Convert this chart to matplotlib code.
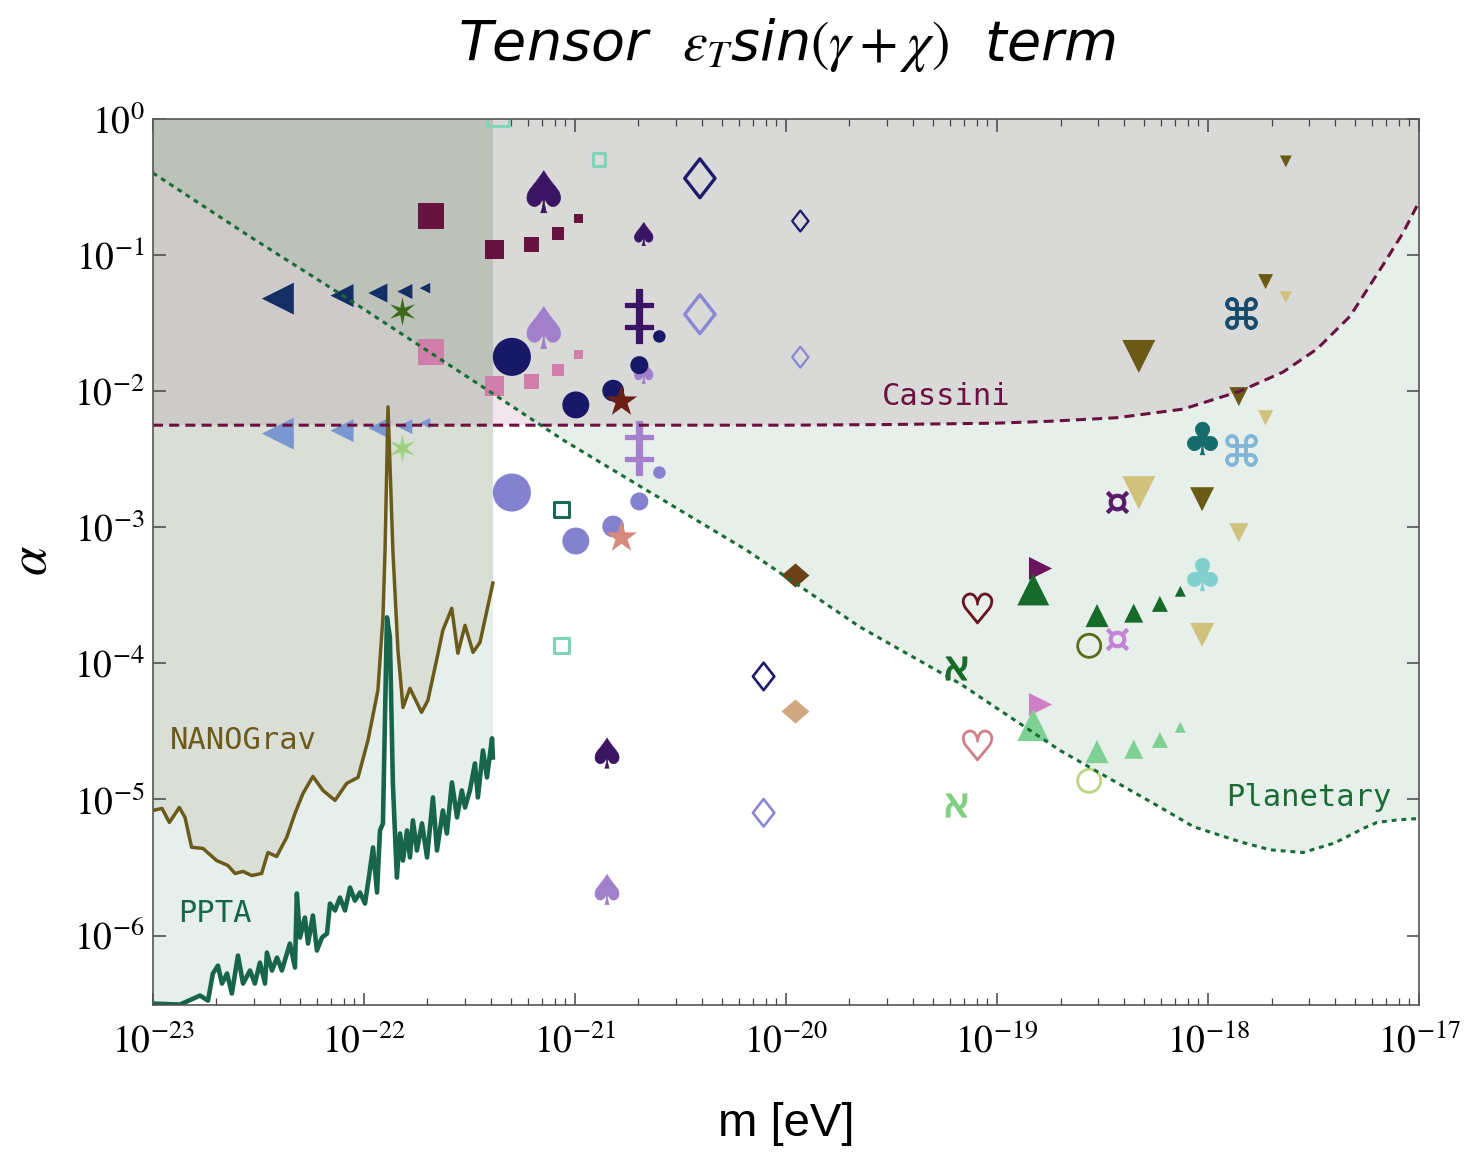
#script to redraw the tensor term exclusion plot
import numpy as np
import matplotlib.pyplot as plt
import matplotlib as mpl
from matplotlib.patches import Polygon
from matplotlib.path import Path
from matplotlib.textpath import TextPath
from matplotlib.font_manager import FontProperties
from matplotlib.ticker import FuncFormatter, NullFormatter

mpl.rcParams['mathtext.fontset'] = 'stix'

# ---------------- bounds (log10 m [eV], log10 alpha) ----------------
planet_logm = [-23.0, -22.54, -22.066, -21.436, -21.055, -20.66, -20.186, -19.649, -19.175,
               -18.701, -18.227, -18.069, -17.85, -17.706, -17.55, -17.40, -17.26, -17.199,
               -17.10, -17.0]
planet_loga = [-0.397, -0.865, -1.331, -1.97, -2.36, -2.728, -3.169, -3.733, -4.149,
               -4.64, -5.057, -5.2, -5.31, -5.37, -5.39, -5.32, -5.21, -5.169,
               -5.15, -5.14]

cassini_logm = [-23.0, -20.0, -19.5, -19.0, -18.749, -18.431, -18.118, -17.848, -17.645,
                -17.483, -17.327, -17.171, -17.076, -17.0]
cassini_loga = [-2.25, -2.25, -2.245, -2.235, -2.221, -2.195, -2.132, -2.0, -1.86,
                -1.69, -1.45, -1.074, -0.838, -0.61]

nano_logm = [-23.0, -22.957, -22.922, -22.875, -22.848, -22.817, -22.763, -22.698, -22.645,
             -22.611, -22.573, -22.532, -22.485, -22.455, -22.414, -22.366, -22.327, -22.289,
             -22.242, -22.194, -22.137, -22.082, -22.028, -21.981, -21.934, -21.91, -21.9,
             -21.886, -21.863, -21.839, -21.815, -21.782, -21.727, -21.697, -21.656, -21.626,
             -21.584, -21.555, -21.521, -21.483, -21.45, -21.389]
nano_loga = [-5.081, -5.066, -5.169, -5.059, -5.132, -5.351, -5.36, -5.449, -5.485,
             -5.544, -5.529, -5.559, -5.544, -5.39, -5.419, -5.279, -5.103, -4.956,
             -4.831, -4.934, -5.007, -4.882, -4.838, -4.566, -4.199, -3.662, -3.169,
             -2.115, -3.169, -3.904, -4.324, -4.184, -4.36, -4.272, -3.978, -3.757,
             -3.596, -3.926, -3.721, -3.919, -3.846, -3.41]

ppta_logm = [-23.0, -22.872, -22.777, -22.739, -22.716, -22.692, -22.673, -22.649, -22.626,
             -22.597, -22.573, -22.54, -22.517, -22.493, -22.469, -22.46, -22.436, -22.412,
             -22.389, -22.351, -22.327, -22.318, -22.303, -22.28, -22.265, -22.242, -22.223,
             -22.199, -22.175, -22.161, -22.137, -22.114, -22.09, -22.066, -22.043, -22.019,
             -21.995, -21.972, -21.957, -21.938, -21.924, -21.91, -21.891, -21.877, -21.863,
             -21.844, -21.829, -21.815, -21.796, -21.782, -21.768, -21.749, -21.725, -21.701,
             -21.673, -21.654, -21.626, -21.607, -21.583, -21.559, -21.536, -21.521, -21.498,
             -21.474, -21.46, -21.436, -21.417, -21.393, -21.389]
ppta_loga = [-6.5, -6.507, -6.441, -6.478, -6.279, -6.221, -6.353, -6.279, -6.426,
             -6.147, -6.353, -6.257, -6.353, -6.199, -6.353, -6.125, -6.257, -6.162,
             -6.257, -6.059, -6.235, -5.691, -6.015, -5.868, -6.059, -5.853, -6.11,
             -6.015, -5.985, -5.765, -5.816, -5.721, -5.816, -5.647, -5.743, -5.684,
             -5.765, -5.522, -5.353, -5.684, -5.228, -5.176, -3.662, -3.809, -4.882,
             -5.574, -5.25, -5.449, -5.228, -5.426, -5.154, -5.375, -5.176, -5.426,
             -4.985, -5.375, -5.081, -5.25, -4.875, -5.132, -4.934, -5.059, -4.934,
             -4.735, -4.985, -4.64, -4.838, -4.551, -4.691]

# ---------------- signal points: log10 m, log10 alpha (dark / light coupling) ----------------
ltri_logm = [-22.408, -22.104, -21.934, -21.806, -21.711]
ltri_dark = [-1.320, -1.298, -1.279, -1.268, -1.243]
ltri_light = [-2.312, -2.290, -2.272, -2.261, -2.235]

sq_logm = [-21.682, -21.382, -21.206, -21.081, -20.982]
sq_dark = [-0.713, -0.956, -0.926, -0.842, -0.734]
sq_light = [-1.712, -1.962, -1.926, -1.844, -1.732]

circ_logm = [-21.299, -20.996, -20.819, -20.695, -20.600]
circ_dark = [-1.748, -2.101, -1.996, -1.809, -1.598]
circ_light = [-2.745, -3.101, -2.994, -2.810, -2.598]

spade_logm = [-21.148, -20.848, -20.674]
spade_dark = [-0.535, -4.660, -0.846]
spade_light = [-1.533, -5.662, -1.858]

odia_logm = [-20.408, -20.106, -19.932]
odia_dark = [-0.436, -4.096, -0.750]
odia_light = [-1.435, -5.098, -1.750]

osq_logm = [-21.364, -21.063, -20.885]
osq_dark = [1.03, -2.868, 0.702]
osq_light = [0.03, -3.868, -0.298]

ddag_logm = [-20.698]
ddag_dark = [-1.447]
ddag_light = [-2.421]

star_logm = [-20.782]
star_dark = [-2.074]
star_light = [-3.072]

ast_logm = [-21.819]
ast_dark = [-1.414]
ast_light = [-2.414]

fdia_logm = [-19.957]
fdia_dark = [-3.349]
fdia_light = [-4.349]

dtri_logm = [-18.328, -18.028, -17.854, -17.727, -17.631]
dtri_dark = [-1.745, -2.794, -2.040, -1.195, -0.312]
dtri_light = [-2.746, -3.791, -3.040, -2.195, -1.310]

cmd_logm = [-17.843]
cmd_dark = [-1.429]
cmd_light = [-2.430]

club_logm = [-18.027]
club_dark = [-2.343]
club_light = [-3.346]

rtri_logm = [-18.796]
rtri_dark = [-3.299]
rtri_light = [-4.299]

utri_logm = [-18.828, -18.526, -18.352, -18.228, -18.131]
utri_dark = [-3.457, -3.649, -3.631, -3.563, -3.470]
utri_light = [-4.454, -4.649, -4.631, -4.563, -4.470]

heart_logm = [-19.096]
heart_dark = [-3.593]
heart_light = [-4.597]

aleph_logm = [-19.193]
aleph_dark = [-4.037]
aleph_light = [-5.038]

ocirc_logm = [-18.563]
ocirc_dark = [-3.871]
ocirc_light = [-4.863]

curr_logm = [-18.431]
curr_dark = [-2.818]
curr_light = [-3.818]

x_decades = list(range(-23, -16))
y_decades = list(range(-6, 1))


def glyph(ch):
    # glyph outline flattened to polygons and centred on its box,
    # so the marker size equals its largest dimension
    tp = TextPath((0, 0), ch, size=50, prop=FontProperties(family='DejaVu Sans'))
    polys = tp.to_polygons(closed_only=True)
    allv = np.vstack(polys)
    cx = (allv[:, 0].min() + allv[:, 0].max()) / 2
    cy = (allv[:, 1].min() + allv[:, 1].max()) / 2
    return Path.make_compound_path(*[Path(p - [cx, cy], closed=True) for p in polys])


def region(logm, loga):
    xs = list(10 ** np.array(logm)) + [10 ** logm[-1], 10 ** logm[0]]
    ys = list(10 ** np.array(loga)) + [1.0, 1.0]
    return np.column_stack([xs, ys])


fig = plt.figure(figsize=(14.65, 11.55), dpi=100)
ax = fig.add_axes([0.1044, 0.1299, 0.8642, 0.7671])
ax.set_xscale('log')
ax.set_yscale('log')

# shaded regions
def add_region(logm, loga, color, z, clip=None):
    p = Polygon(region(logm, loga), closed=True, facecolor=color, lw=0, zorder=z)
    ax.add_patch(p)
    if clip is not None:
        p.set_clip_path(clip)
    return p

P_clip = Polygon(region(planet_logm, planet_loga), closed=True, transform=ax.transData)
N_clip = Polygon(region(nano_logm, nano_loga), closed=True, transform=ax.transData)

add_region(planet_logm, planet_loga, '#e6efe9', 1.0)
add_region(cassini_logm, cassini_loga, '#f2e6ec', 1.1)
add_region(cassini_logm, cassini_loga, '#d9d9d8', 1.2, clip=P_clip)
add_region(ppta_logm, ppta_loga, '#e6efec', 1.3)
add_region(nano_logm, nano_loga, '#d9ded7', 1.4)
add_region(cassini_logm, cassini_loga, '#cdcbc7', 1.5, clip=N_clip)
add_region(planet_logm, planet_loga, '#bcc1b9', 1.6, clip=N_clip)


def pair(logm, dark, light, sizes, marker, c_dark, c_light, hollow=False, lw=0.0):
    m = 10 ** np.asarray(logm)
    s = np.asarray(sizes, dtype=float) ** 2
    for vals, c in ((light, c_light), (dark, c_dark)):
        a = 10 ** np.asarray(vals)
        if hollow:
            ax.scatter(m, a, s=s, marker=marker, facecolors='none', edgecolors=c,
                       linewidths=lw, zorder=3)
        else:
            ax.scatter(m, a, s=s, marker=marker, facecolors=c, edgecolors=c,
                       linewidths=lw, zorder=3)


diamond_open = Path([(0, 1), (0.78, 0), (0, -1), (-0.78, 0), (0, 1)], closed=True)
diamond_flat = Path([(1, 0), (0, 0.86), (-1, 0), (0, -0.86), (1, 0)], closed=True)
asterisk = Path.unit_regular_star(6, 0.3)

pair(sq_logm, sq_dark, sq_light, [18.7, 13.7, 10.8, 9.0, 6.5], 's', '#661340', '#d07faa')
pair(ltri_logm, ltri_dark, ltri_light, [23, 16.6, 13.7, 10.8, 7.6], '<', '#142f66', '#7b97d0')
pair(ast_logm, ast_dark, ast_light, [20.9], asterisk, '#3d6b1a', '#9fd27f')
pair(spade_logm, spade_dark, spade_light, [30.2, 21.6, 16.6], glyph('\u2660'), '#3b1463', '#a17fcb',
     lw=0.5)
pair(circ_logm, circ_dark, circ_light, [27.4, 19.4, 15.6, 13.0, 9.0], 'o', '#181868', '#8482cf')
pair(ddag_logm, ddag_dark, ddag_light, [38.5], glyph('\u2021'), '#3b1463', '#a580cc', lw=0.9)
pair(star_logm, star_dark, star_light, [23.8], '*', '#6b2015', '#d68a7a')
pair(osq_logm, osq_dark, osq_light, [16.2, 11.2, 9.0], 's', '#1a6b55', '#80d5b8', hollow=True, lw=2.2)
pair(odia_logm, odia_dark, odia_light, [28, 19.8, 15.1], diamond_open, '#1f1a6b', '#8b86d6',
     hollow=True, lw=[2.4, 1.9, 1.6])
pair(fdia_logm, fdia_dark, fdia_light, [20.2], diamond_flat, '#6b4016', '#d0a880')
pair(dtri_logm, dtri_dark, dtri_light, [23.8, 17.3, 13.7, 10.8, 8.6], 'v', '#6b5a16', '#d1c17c')
pair(cmd_logm, cmd_dark, cmd_light, [23], glyph('\u2318'), '#154a6b', '#80b5d6', lw=0.6)
pair(club_logm, club_dark, club_light, [23.5], glyph('\u2663'), '#166b6b', '#80d0d0', lw=0.5)
pair(rtri_logm, rtri_dark, rtri_light, [16.6], '>', '#6b1460', '#d07fc7')
pair(utri_logm, utri_dark, utri_light, [23, 16.6, 13.7, 11.5, 7.9], '^', '#166b2b', '#7fd095')
pair(heart_logm, heart_dark, heart_light, [21.6], glyph('\u2661'), '#6b1420', '#d0808a', lw=1.3)
pair(aleph_logm, aleph_dark, aleph_light, [16.6], glyph('\u05d0'), '#166b25', '#80d080', lw=0.8)
pair(ocirc_logm, ocirc_dark, ocirc_light, [16.6], 'o', '#5a6b1a', '#bcd580', hollow=True, lw=2.0)
pair(curr_logm, curr_dark, curr_light, [15.8], glyph('\u00a4'), '#5a1a6b', '#c383d6', lw=0.8)

# bound curves
ax.plot(10 ** np.array(nano_logm), 10 ** np.array(nano_loga), color='#6b5a1a', lw=2.5,
        solid_joinstyle='round', zorder=4)
ax.plot(10 ** np.array(ppta_logm), 10 ** np.array(ppta_loga), color='#17654b', lw=3.3,
        solid_joinstyle='round', zorder=4)
ax.plot(10 ** np.array(cassini_logm), 10 ** np.array(cassini_loga), color='#6b1142', lw=2.2,
        dashes=(3.3, 2.0), zorder=4)
ax.plot(10 ** np.array(planet_logm), 10 ** np.array(planet_loga), color='#1a6b35', lw=2.2,
        dashes=(1.6, 1.6), zorder=4)

lab = dict(family='DejaVu Sans Mono', fontsize=22, ha='center', va='center', zorder=5)
ax.text(10 ** -19.242, 10 ** -2.037, 'Cassini', color='#6b1142', **lab)
ax.text(10 ** -22.573, 10 ** -4.566, 'NANOGrav', color='#6b5a1a', **lab)
ax.text(10 ** -22.706, 10 ** -5.838, 'PPTA', color='#17654b', **lab)
ax.text(10 ** -17.521, 10 ** -4.985, 'Planetary', color='#1a6b35', **lab)

# axes styling: only ticks inside the view
fmt = FuncFormatter(lambda v, p: r'$10^{%d}$' % round(np.log10(v)))
ax.set_xticks([10.0 ** e for e in x_decades])
ax.set_xticks([k * 10.0 ** e for e in x_decades[:-1] for k in range(2, 10)], minor=True)
ax.set_yticks([10.0 ** e for e in y_decades])
ax.set_yticks([], minor=True)
ax.xaxis.set_major_formatter(fmt)
ax.yaxis.set_major_formatter(fmt)
ax.xaxis.set_minor_formatter(NullFormatter())
ax.set_xlim(1e-23, 1e-17)
ax.set_ylim(10 ** -6.51, 1.0)
ax.tick_params(which='both', direction='in', top=True, right=True, color='#444444',
               labelcolor='black')
ax.tick_params(which='major', length=9, width=1.1, labelsize=27)
ax.tick_params(which='minor', length=5, width=0.9)
ax.tick_params(axis='x', pad=14)
ax.tick_params(axis='y', pad=6)
for sp in ax.spines.values():
    sp.set_color('#555555')
    sp.set_linewidth(1.2)
    sp.set_zorder(6)

fig.text(0.537, 0.961, r'Tensor  $\varepsilon_T$sin$(\gamma+\chi)$  term', fontsize=40,
         style='italic', ha='center', va='center')
fig.text(0.537, 0.027, 'm [eV]', fontsize=34, family='Liberation Sans', ha='center', va='center')
fig.text(0.021, 0.515, r'$\alpha$', fontsize=38, rotation=90, ha='center', va='center')

plt.savefig('out.png', dpi=100)
